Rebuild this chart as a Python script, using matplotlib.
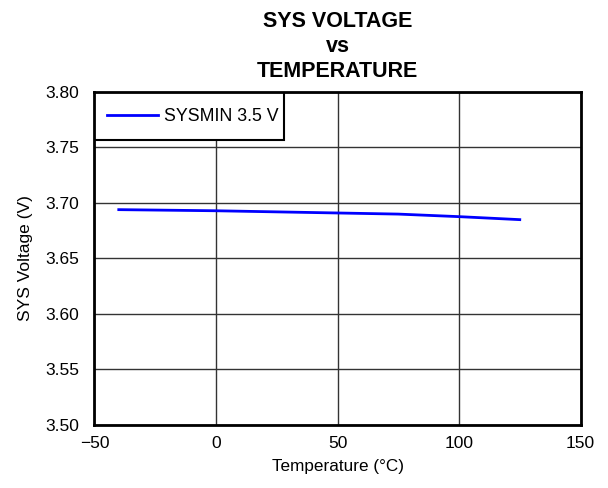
import matplotlib
matplotlib.use("Agg")
import matplotlib.pyplot as plt
from matplotlib.patches import Rectangle

plt.rcParams['font.family'] = ['Liberation Sans', 'DejaVu Sans']

temperature = [-40, 0, 25, 50, 75, 100, 125]
sys_voltage = [3.694, 3.693, 3.692, 3.691, 3.690, 3.6877, 3.685]
series_label = "SYSMIN 3.5 V"
x_ticks = [-50, 0, 50, 100, 150]
y_ticks = [3.50, 3.55, 3.60, 3.65, 3.70, 3.75, 3.80]

fig = plt.figure(figsize=(6.08, 4.88), dpi=100)
ax = fig.add_axes([0.1554, 0.1291, 0.7994, 0.6824])

ax.plot(temperature, sys_voltage, color='#0000ff', lw=2, label=series_label)

ax.set_xlim(-50, 150)
ax.set_ylim(3.50, 3.80)
ax.set_xticks(x_ticks)
ax.set_yticks(y_ticks)
ax.set_yticklabels([f"{v:.2f}" for v in y_ticks])
ax.grid(True, color='#333333', lw=1)
ax.tick_params(length=0, labelsize=12.5)
ax.tick_params(axis='x', pad=8)
ax.tick_params(axis='y', pad=11)
for s in ax.spines.values():
    s.set_linewidth(2)
    s.set_color('black')
    s.set_zorder(6)

ax.set_xlabel("Temperature (°C)", fontsize=12.3, labelpad=6)
ax.set_ylabel("SYS Voltage (V)", fontsize=12.5, labelpad=9)
ax.set_title("SYS VOLTAGE\nvs\nTEMPERATURE", fontsize=15.5, fontweight='bold',
             linespacing=1.25, pad=11)

# legend frame
ax.add_patch(Rectangle((0, 0.856), 0.390, 0.144, transform=ax.transAxes,
                       facecolor='white', edgecolor='black', lw=1.5, zorder=4.5))
leg = ax.legend(loc='center left', bbox_to_anchor=(0, 0.925), borderaxespad=0,
                frameon=False, fontsize=12.8, handlelength=2.9, handletextpad=0.3,
                borderpad=0.7)
leg.set_zorder(5)

fig.savefig("out.png", dpi=100)
